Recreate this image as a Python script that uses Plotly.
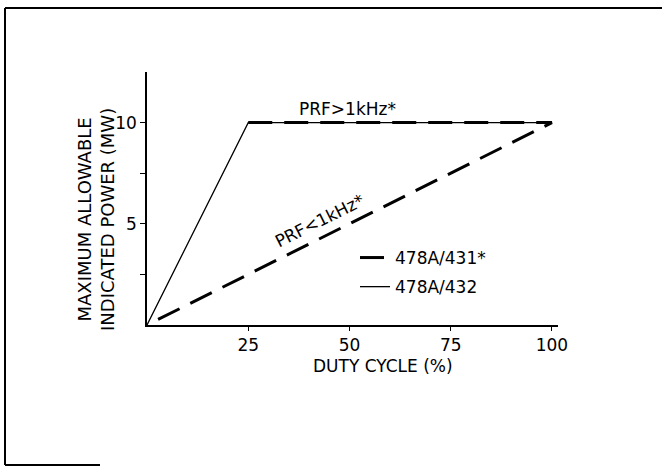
import plotly.graph_objects as go

# Data (duty cycle %, max allowable indicated power MW)
dashed_x = [25, 100, 0]      # 478A/431: PRF>1kHz plateau, then PRF<1kHz line back to origin
dashed_y = [10, 10, 0]
solid_x = [0, 25, 100]       # 478A/432
solid_y = [0, 10, 10]

x_ticks = [25, 50, 75, 100]
y_tickvals = [2.5, 5, 7.5, 10]
y_ticktext = ["", "5", "", "10"]

FONT = "DejaVu Sans, Arial, sans-serif"
W, H = 662, 467
L, R, T, B = 147, 104, 72, 142
pw, ph = W - L - R, H - T - B

def px2paper_x(px):
    return (px - L) / pw

def px2paper_y(py):
    return (H - B - py) / ph

fig = go.Figure()
fig.add_trace(go.Scatter(x=dashed_x, y=dashed_y, mode="lines", name="478A/431*",
                         legendgroup="a",
                         line=dict(color="black", width=3, dash="24px,12px")))
fig.add_trace(go.Scatter(x=solid_x, y=solid_y, mode="lines", name="478A/432",
                         legendgroup="b",
                         line=dict(color="black", width=1.3)))

fig.update_layout(
    width=W, height=H,
    margin=dict(l=L, r=R, t=T, b=B),
    paper_bgcolor="white", plot_bgcolor="white",
    font=dict(family=FONT, size=17, color="black"),
    showlegend=True,
    legend=dict(x=px2paper_x(355), y=px2paper_y(240), xanchor="left", yanchor="top",
                bgcolor="rgba(0,0,0,0)", font=dict(size=17), tracegroupgap=4),
    xaxis=dict(range=[0, 101.5], tickvals=x_ticks, showgrid=False, zeroline=False,
               showline=True, linecolor="black", linewidth=1.5,
               ticks="outside", ticklen=4, tickcolor="black", tickwidth=1,
               tickfont=dict(size=17)),
    yaxis=dict(range=[0, 12.5], tickvals=y_tickvals, ticktext=y_ticktext,
               showgrid=False, zeroline=False,
               showline=True, linecolor="black", linewidth=1.5,
               ticks="outside", ticklen=5, tickcolor="black", tickwidth=1,
               tickfont=dict(size=17)),
    annotations=[
        dict(text="DUTY CYCLE (%)", xref="paper", yref="paper",
             x=px2paper_x(383), y=px2paper_y(366), xanchor="center", yanchor="middle",
             showarrow=False, font=dict(size=17)),
        dict(text="MAXIMUM ALLOWABLE<br>INDICATED POWER (MW)", xref="paper", yref="paper",
             x=px2paper_x(96), y=px2paper_y(220), xanchor="center", yanchor="middle",
             showarrow=False, textangle=-90, font=dict(size=18), align="center"),
        dict(text="PRF>1kHz*", xref="x", yref="y", x=49.5, y=10, yshift=14,
             showarrow=False, font=dict(size=17)),
        dict(text="PRF<1kHz*", xref="x", yref="y", x=42.5, y=5.15,
             showarrow=False, textangle=-26.6, font=dict(size=17)),
    ],
    shapes=[
        dict(type="line", xref="paper", yref="paper",
             x0=px2paper_x(5), y0=px2paper_y(8), x1=px2paper_x(5), y1=px2paper_y(465),
             line=dict(color="black", width=2)),
        dict(type="line", xref="paper", yref="paper",
             x0=px2paper_x(5), y0=px2paper_y(8), x1=px2paper_x(662), y1=px2paper_y(8),
             line=dict(color="black", width=2)),
        dict(type="line", xref="paper", yref="paper",
             x0=px2paper_x(5), y0=px2paper_y(465), x1=px2paper_x(100), y1=px2paper_y(465),
             line=dict(color="black", width=2)),
    ],
)

fig.write_html("out.html", post_script="document.body.style.margin='0';",
               config={"displayModeBar": False})
